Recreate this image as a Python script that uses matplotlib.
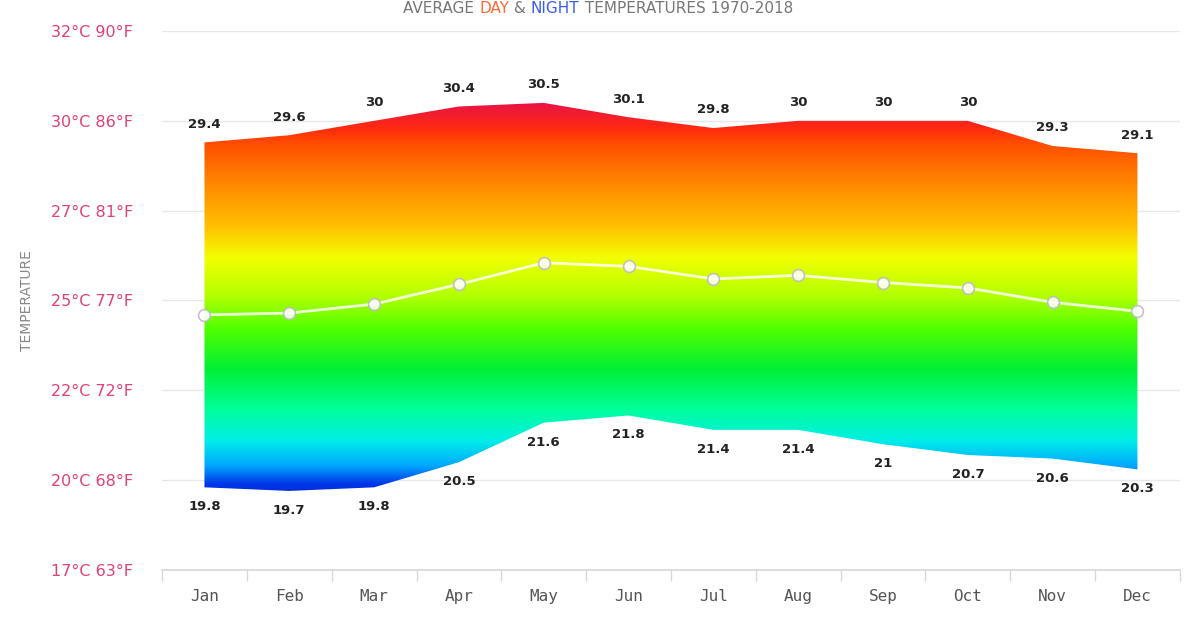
import matplotlib
matplotlib.use("Agg")
import matplotlib.pyplot as plt
import numpy as np
from matplotlib.colors import LinearSegmentedColormap
from matplotlib.patches import PathPatch
from matplotlib.path import Path

months = ["Jan", "Feb", "Mar", "Apr", "May", "Jun",
          "Jul", "Aug", "Sep", "Oct", "Nov", "Dec"]
day_temp = [29.4, 29.6, 30, 30.4, 30.5, 30.1, 29.8, 30, 30, 30, 29.3, 29.1]
night_temp = [19.8, 19.7, 19.8, 20.5, 21.6, 21.8, 21.4, 21.4, 21, 20.7, 20.6, 20.3]
mean_temp = [24.6, 24.65, 24.9, 25.45, 26.05, 25.95, 25.6, 25.7, 25.5, 25.35, 24.95, 24.7]
y_ticks = [17.5, 20, 22.5, 25, 27.5, 30, 32.5]
y_tick_labels = ["17°C 63°F", "20°C 68°F", "22°C 72°F", "25°C 77°F",
                 "27°C 81°F", "30°C 86°F", "32°C 90°F"]

# gradient stops: (temperature, colour)
grad_stops = [
    (19.6, "#0028d8"), (19.9, "#0038e8"), (20.4, "#00a8ff"), (21.1, "#00eee6"),
    (22.0, "#00ff98"), (23.1, "#00f034"), (24.2, "#50ff00"), (25.1, "#b0ff00"),
    (26.2, "#f2ff00"), (27.0, "#ffc400"), (28.1, "#ff9000"), (29.4, "#ff4c00"),
    (29.8, "#ff2a10"), (30.6, "#e6104e"),
]

x = np.arange(len(months))
fig = plt.figure(figsize=(11.96, 6.28), dpi=100)
ax = fig.add_axes([0.1355, 0.0924, 0.851, 0.8582])
ax.set_xlim(-0.5, 11.5)
ax.set_ylim(17.5, 32.5)

# gridlines
for t in y_ticks:
    ax.axhline(t, color="#e8e8e8", lw=1.0, zorder=0)

# gradient area between night and day
lo, hi = grad_stops[0][0], grad_stops[-1][0]
cmap = LinearSegmentedColormap.from_list(
    "temp", [((t - lo) / (hi - lo), c) for t, c in grad_stops])
grad = np.linspace(0, 1, 512).reshape(-1, 1)
img = ax.imshow(grad, cmap=cmap, aspect="auto", origin="lower",
                extent=[-0.5, 11.5, lo, hi], zorder=1, interpolation="bilinear")
verts = list(zip(x, day_temp)) + list(zip(x[::-1], night_temp[::-1]))
verts.append(verts[0])
clip = PathPatch(Path(verts, closed=True), transform=ax.transData,
                 facecolor="none", edgecolor="none")
ax.add_patch(clip)
img.set_clip_path(clip)

# mean line
ax.plot(x, mean_temp, color="white", lw=2, alpha=0.85, zorder=3,
        marker="o", markersize=8.5, markerfacecolor="white",
        markeredgecolor="#b8b8c8", markeredgewidth=1.2)

# value labels
for xi, d, n in zip(x, day_temp, night_temp):
    ax.annotate(f"{d:g}", (xi, d), xytext=(0, 13), textcoords="offset points",
                ha="center", va="center", fontsize=9.5, fontweight="bold",
                color="#222222", zorder=4)
    ax.annotate(f"{n:g}", (xi, n), xytext=(0, -14), textcoords="offset points",
                ha="center", va="center", fontsize=9.5, fontweight="bold",
                color="#222222", zorder=4)

# axes styling
for s in ["top", "right", "left"]:
    ax.spines[s].set_visible(False)
ax.spines["bottom"].set_color("#d8d8d8")
ax.spines["bottom"].set_linewidth(1.2)
ax.set_yticks(y_ticks)
ax.set_yticklabels(y_tick_labels, color="#e0407a", fontsize=11.5)
ax.tick_params(axis="y", length=0, pad=21)
ax.set_xticks(np.arange(-0.5, 12, 1), minor=False)
ax.set_xticklabels([])
ax.tick_params(axis="x", which="major", length=8, color="#d8d8d8", width=1)
ax.set_xticks(x, minor=True)
ax.set_xticklabels(months, minor=True, family="DejaVu Sans Mono",
                   fontsize=11.5, color="#555555")
ax.tick_params(axis="x", which="minor", length=0, pad=14)
ax.set_ylabel("TEMPERATURE", color="#888888", fontsize=10, labelpad=12)

# multicoloured title
parts = [("AVERAGE ", "#777777"), ("DAY", "#ff6a3a"), (" & ", "#777777"),
         ("NIGHT", "#3a5cf0"), (" TEMPERATURES 1970-2018", "#777777")]
fig.canvas.draw()
renderer = fig.canvas.get_renderer()
widths = []
for txt, col in parts:
    t = fig.text(0, 0, txt, fontsize=11)
    widths.append(t.get_window_extent(renderer).width)
    t.remove()
xpos = 598 - sum(widths) / 2
for (txt, col), w in zip(parts, widths):
    fig.text(xpos / 1196, 1 - 1 / 628, txt, fontsize=11, color=col,
             va="top", ha="left")
    xpos += w

fig.savefig("out.png", dpi=100)
